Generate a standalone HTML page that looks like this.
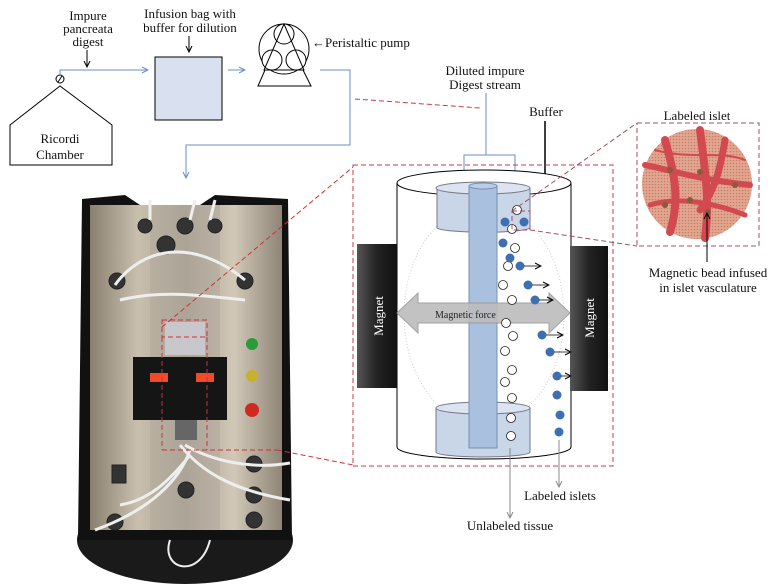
<!DOCTYPE html>
<html><head><meta charset="utf-8"><style>
html,body{margin:0;padding:0;background:#fff;}
svg{display:block;font-family:"Liberation Serif",serif;}
</style></head><body>
<svg width="776" height="586" viewBox="0 0 776 586" xmlns="http://www.w3.org/2000/svg">
<defs>
<marker id="ab" markerWidth="8" markerHeight="8" refX="7" refY="4" orient="auto" markerUnits="userSpaceOnUse"><path d="M1,1 L7,4 L1,7" fill="none" stroke="#6a8fc0" stroke-width="1"/></marker>
<marker id="ak" markerWidth="8" markerHeight="8" refX="7" refY="4" orient="auto" markerUnits="userSpaceOnUse"><path d="M1,1 L7,4 L1,7" fill="none" stroke="#000" stroke-width="1"/></marker>
<marker id="akf" markerWidth="8" markerHeight="8" refX="7" refY="4" orient="auto" markerUnits="userSpaceOnUse"><path d="M0,0 L8,4 L0,8z" fill="#000"/></marker>
<marker id="ag" markerWidth="8" markerHeight="8" refX="7" refY="4" orient="auto" markerUnits="userSpaceOnUse"><path d="M1,1 L7,4 L1,7" fill="none" stroke="#888" stroke-width="1"/></marker>
<linearGradient id="pan" x1="0" x2="1"><stop offset="0" stop-color="#8a8070"/><stop offset=".25" stop-color="#c9bfae"/><stop offset=".5" stop-color="#a8a092"/><stop offset=".75" stop-color="#d2c8b8"/><stop offset="1" stop-color="#8f8577"/></linearGradient>
<linearGradient id="mag" x1="0" x2="1"><stop offset="0" stop-color="#555"/><stop offset=".5" stop-color="#222"/><stop offset="1" stop-color="#111"/></linearGradient>
<pattern id="dots" width="3" height="3" patternUnits="userSpaceOnUse"><rect width="3" height="3" fill="#e2a790"/><circle cx="1.5" cy="1.5" r=".8" fill="#c97a68"/></pattern>
</defs>

<!-- Top flow diagram -->
<path d="M10,125 L60,86 L112,125 L112,165 L10,165 Z" fill="#fff" stroke="#000"/>
<g font-size="13" text-anchor="middle" fill="#111">
<text x="88" y="20">Impure</text><text x="88" y="33">pancreata</text><text x="88" y="46">digest</text>
<text x="190" y="18">Infusion bag with</text><text x="190" y="32">buffer for dilution</text>
<text x="60" y="143">Ricordi</text><text x="60" y="159">Chamber</text>
<text x="485" y="75">Diluted impure</text><text x="485" y="89">Digest stream</text>
<text x="546" y="116">Buffer</text>
<text x="697" y="120">Labeled islet</text>
<text x="708" y="277">Magnetic bead infused</text><text x="708" y="292">in islet vasculature</text>
<text x="560" y="500">Labeled islets</text>
<text x="510" y="530">Unlabeled tissue</text>
</g>
<text x="312" y="47" font-size="13" fill="#111">←Peristaltic pump</text>

<line x1="87" y1="50" x2="87" y2="67" stroke="#000" marker-end="url(#ak)"/>
<line x1="189" y1="36" x2="189" y2="52" stroke="#000" marker-end="url(#ak)"/>
<circle cx="60" cy="79" r="4" fill="#fff" stroke="#000"/>
<line x1="58" y1="82" x2="62" y2="76" stroke="#000"/>
<path d="M60,75 L60,70 L148,70" fill="none" stroke="#6a8fc0" marker-end="url(#ab)"/>
<rect x="155" y="57" width="67" height="63" fill="#d9e0ef" stroke="#000"/>
<line x1="228" y1="70" x2="245" y2="70" stroke="#6a8fc0" marker-end="url(#ab)"/>
<circle cx="284" cy="49" r="25" fill="#fff" stroke="#000"/>
<circle cx="284" cy="34" r="10" fill="#fff" stroke="#000"/>
<circle cx="272" cy="60" r="10" fill="#fff" stroke="#000"/>
<circle cx="296" cy="60" r="10" fill="#fff" stroke="#000"/>
<path d="M284,24 L264,70 L304,70 Z" fill="none" stroke="#000"/>
<path d="M265,70 L258,86 L311,86 L303,70" fill="none" stroke="#000"/>
<path d="M320,70 L350,70 L350,145 L186,145 L186,178" fill="none" stroke="#6a8fc0" marker-end="url(#ab)"/>
<line x1="355" y1="99" x2="480" y2="108" stroke="#c0404a" stroke-dasharray="5,3"/>
<path d="M486,93 L486,155 M464,182 L464,155 L515,155 L515,182" fill="none" stroke="#6a8fc0"/>
<line x1="464" y1="170" x2="464" y2="183" stroke="#6a8fc0" marker-end="url(#ab)"/>
<line x1="515" y1="170" x2="515" y2="183" stroke="#6a8fc0" marker-end="url(#ab)"/>
<line x1="545" y1="121" x2="545" y2="186" stroke="#000" stroke-width="1.5" marker-end="url(#akf)"/>

<!-- Photo -->
<ellipse cx="185" cy="540" rx="108" ry="44" fill="#1a1a1a"/>
<path d="M82,199 L125,195 L140,205 L200,205 L215,195 L288,199 L292,540 L78,540 Z" fill="#111"/>
<rect x="90" y="205" width="192" height="325" fill="url(#pan)"/>
<rect x="150" y="205" width="70" height="325" fill="#b0a89b" opacity=".5"/>
<g fill="#333" stroke="#222">
<circle cx="145" cy="226" r="7"/><circle cx="185" cy="226" r="8"/><circle cx="215" cy="226" r="7"/>
<circle cx="166" cy="245" r="9"/>
<circle cx="117" cy="281" r="8"/><circle cx="245" cy="281" r="8"/>
<circle cx="254" cy="464" r="8"/><circle cx="254" cy="495" r="8"/><circle cx="254" cy="520" r="8"/>
<circle cx="186" cy="490" r="8"/><circle cx="115" cy="522" r="8"/>
<rect x="112" y="465" width="14" height="18"/>
</g>
<g fill="none" stroke="#eee" stroke-width="3">
<path d="M150,200 L150,220 M195,200 L190,220 M215,200 L210,220"/>
<path d="M115,285 C140,250 190,235 245,280"/>
<path d="M120,300 C160,290 200,295 245,300"/>
<path d="M180,445 C200,470 230,490 290,500"/>
<path d="M185,445 C210,460 250,470 290,463"/>
<path d="M95,530 C150,510 180,480 190,450"/>
<path d="M120,505 C150,500 170,480 190,455"/>
<path d="M170,540 C160,570 200,580 210,540" stroke-width="2"/>
</g>
<rect x="133" y="357" width="94" height="63" fill="#151515"/>
<rect x="150" y="373" width="18" height="9" fill="#f04a2a"/>
<rect x="196" y="373" width="18" height="9" fill="#f04a2a"/>
<rect x="165" y="322" width="40" height="33" fill="#c8c8cc"/>
<rect x="175" y="420" width="22" height="20" fill="#666"/>
<circle cx="252" cy="344" r="6" fill="#2a9a3a"/>
<circle cx="252" cy="376" r="6" fill="#c8b030"/>
<circle cx="252" cy="410" r="7" fill="#d02a20"/>

<!-- Red dashed from photo -->
<g fill="none" stroke="#d03038" stroke-dasharray="5,3">
<rect x="162" y="320" width="45" height="17"/>
<line x1="162" y1="337" x2="162" y2="450"/><line x1="207" y1="337" x2="207" y2="450"/>
<line x1="162" y1="450" x2="277" y2="450"/>
<line x1="162" y1="327" x2="353" y2="167"/>
<line x1="277" y1="450" x2="353" y2="465"/>
</g>
<rect x="353" y="165" width="260" height="301" fill="none" stroke="#c0404a" stroke-dasharray="5,3"/>

<!-- Cylinder -->
<path d="M397,183 L397,447 A87,12 0 0 0 571,447 L571,183" fill="#fff" stroke="#000"/>
<ellipse cx="484" cy="183" rx="87" ry="13" fill="#fff" stroke="#000"/>
<ellipse cx="484" cy="315" rx="80" ry="110" fill="none" stroke="#ccc" stroke-dasharray="1,2"/>
<path d="M437,188 L437,228 A47,5 0 0 0 530,228 L530,188" fill="#c9d6e8" stroke="#778"/>
<ellipse cx="483" cy="188" rx="47" ry="6" fill="#dbe4f0" stroke="#778"/>
<path d="M436,408 L436,452 A47,5 0 0 0 530,452 L530,408" fill="#c9d6e8" stroke="#778"/>
<ellipse cx="483" cy="408" rx="47" ry="6" fill="#dbe4f0" stroke="#778"/>
<rect x="469" y="186" width="28" height="262" fill="#a9c0de" stroke="#7890b0"/>
<ellipse cx="483" cy="186" rx="14" ry="3" fill="#b8cce6" stroke="#7890b0"/>
<rect x="357" y="244" width="40" height="144" fill="url(#mag)"/>
<rect x="570" y="246" width="38" height="145" fill="url(#mag)"/>
<text transform="translate(383,316) rotate(-90)" text-anchor="middle" font-size="13" fill="#fff">Magnet</text>
<text transform="translate(594,318) rotate(-90)" text-anchor="middle" font-size="13" fill="#fff">Magnet</text>
<path d="M397,313 L418,293 L418,303 L549,303 L549,293 L570,313 L549,333 L549,323 L418,323 L418,333 Z" fill="#bcbcbc" stroke="#999" opacity=".9"/>
<text x="435" y="318" font-size="10" fill="#222">Magnetic force</text>

<g fill="#fff" stroke="#222" stroke-width=".8">
<circle cx="517" cy="210" r="4.5"/><circle cx="512" cy="229" r="4.5"/>
<circle cx="515" cy="248" r="4.5"/><circle cx="508" cy="266" r="4.5"/><circle cx="503" cy="285" r="4.5"/>
<circle cx="512" cy="300" r="4.5"/><circle cx="506" cy="323" r="4.5"/><circle cx="513" cy="336" r="4.5"/>
<circle cx="505" cy="351" r="4.5"/><circle cx="512" cy="370" r="4.5"/><circle cx="505" cy="382" r="4.5"/>
<circle cx="512" cy="398" r="4.5"/><circle cx="511" cy="418" r="4.5"/><circle cx="511" cy="436" r="4.5"/>
</g>
<g fill="#3e6fb0">
<circle cx="505" cy="222" r="4.5"/><circle cx="524" cy="222" r="4.5"/>
<circle cx="503" cy="243" r="4.5"/><circle cx="510" cy="258" r="4.5"/><circle cx="520" cy="266" r="4.5"/>
<circle cx="528" cy="285" r="4.5"/><circle cx="535" cy="300" r="4.5"/><circle cx="542" cy="335" r="4.5"/>
<circle cx="550" cy="352" r="4.5"/><circle cx="557" cy="376" r="4.5"/><circle cx="557" cy="395" r="4.5"/>
<circle cx="560" cy="415" r="4.5"/><circle cx="559" cy="432" r="4.5"/>
</g>
<g stroke="#000" stroke-width=".8" marker-end="url(#ak)">
<line x1="524" y1="266" x2="541" y2="266"/><line x1="532" y1="285" x2="549" y2="285"/>
<line x1="539" y1="300" x2="553" y2="300"/><line x1="546" y1="335" x2="563" y2="335"/>
<line x1="554" y1="352" x2="571" y2="352"/><line x1="561" y1="376" x2="571" y2="376"/>
</g>
<line x1="510" y1="448" x2="510" y2="518" stroke="#888" marker-end="url(#ag)"/>
<line x1="559" y1="440" x2="559" y2="487" stroke="#888" marker-end="url(#ag)"/>

<!-- Islet inset -->
<g fill="none" stroke="#a05060" stroke-dasharray="5,3">
<rect x="512" y="211" width="18" height="19"/>
<line x1="512" y1="211" x2="637" y2="123"/>
<line x1="530" y1="230" x2="637" y2="246"/>
<rect x="637" y="123" width="122" height="123"/>
</g>
<circle cx="697" cy="184" r="55" fill="url(#dots)"/>
<g stroke="#d24a50" fill="none" stroke-linecap="round">
<path d="M665,140 C675,175 680,200 670,232" stroke-width="8"/>
<path d="M700,130 C705,170 710,200 705,238" stroke-width="8"/>
<path d="M725,140 C720,170 715,190 700,210" stroke-width="7"/>
<path d="M645,165 C670,170 700,180 750,185" stroke-width="6"/>
<path d="M650,205 C680,195 720,205 745,215" stroke-width="5"/>
<path d="M655,150 C690,160 720,150 745,160" stroke-width="2"/>
</g>
<g fill="#8a5a3a"><circle cx="670" cy="170" r="3"/><circle cx="700" cy="172" r="3"/><circle cx="708" cy="212" r="3"/><circle cx="690" cy="200" r="3"/><circle cx="735" cy="185" r="3"/><circle cx="665" cy="205" r="3"/></g>
<line x1="707" y1="262" x2="707" y2="213" stroke="#000" marker-end="url(#ak)"/>
</svg>
</body></html>
